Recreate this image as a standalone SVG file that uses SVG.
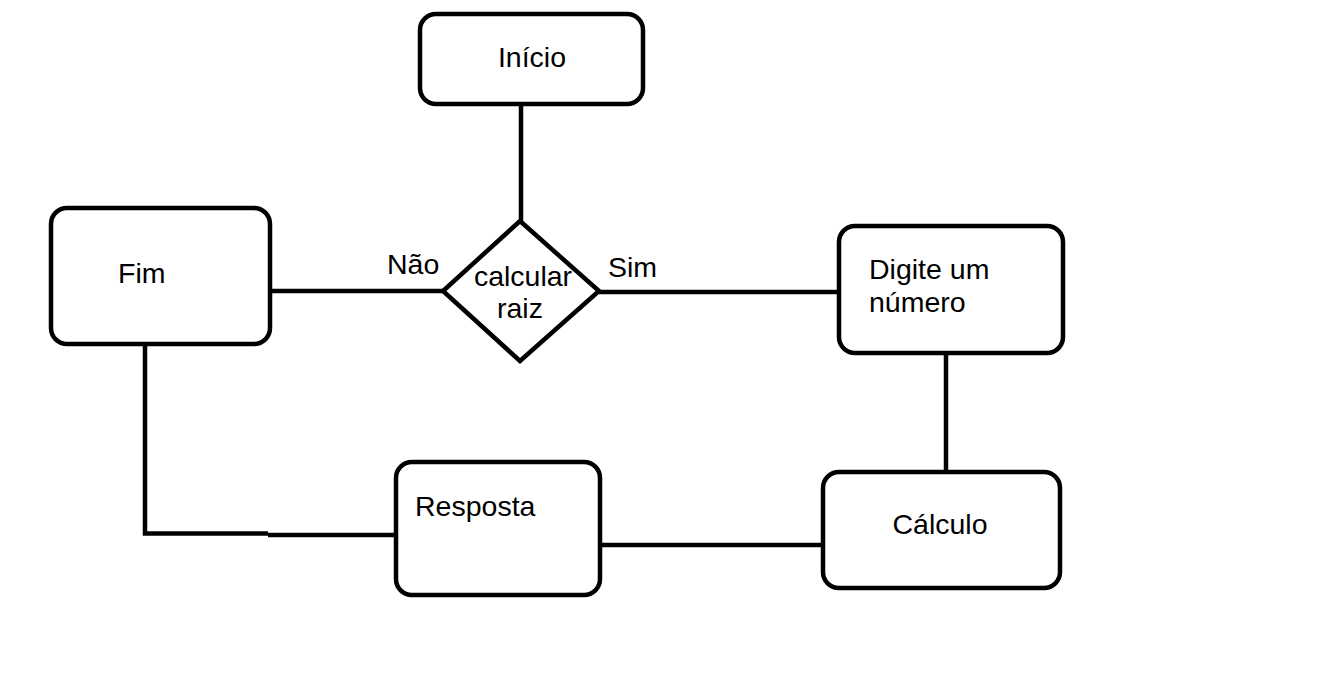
<svg xmlns="http://www.w3.org/2000/svg" width="1330" height="673" viewBox="0 0 1330 673">
<style>
.box{fill:#fff;stroke:#000;stroke-width:4.5}
.ln{fill:none;stroke:#000;stroke-width:4.5}
text{font-family:"Liberation Sans",Arial,sans-serif;font-size:28.5px;fill:#000}
</style>
<rect width="1330" height="673" fill="#fff"/>
<g id="connectors">
<line class="ln" x1="521" y1="104" x2="521" y2="221"/>
<line class="ln" x1="270" y1="291" x2="443" y2="291"/>
<line class="ln" x1="599" y1="292" x2="839" y2="292"/>
<line class="ln" x1="946" y1="353" x2="946" y2="472"/>
<line class="ln" x1="600" y1="545" x2="823" y2="545"/>
<polyline class="ln" points="145,344 145,533.5 268,533.5"/>
<line class="ln" x1="268" y1="535" x2="396" y2="535"/>
<text x="387" y="274">Não</text>
<text x="608" y="277">Sim</text>
</g>
<g id="inicio">
<rect class="box" x="420" y="14" width="223" height="90" rx="16"/>
<text x="532" y="67" text-anchor="middle">Início</text>
</g>
<g id="decisao">
<polygon class="box" points="520,221 599,291 520,361 443,291"/>
<text x="523" y="286" text-anchor="middle">calcular</text>
<text x="520" y="318" text-anchor="middle">raiz</text>
</g>
<g id="fim">
<rect class="box" x="51" y="208" width="219" height="136" rx="16"/>
<text x="118" y="283">Fim</text>
</g>
<g id="digite">
<rect class="box" x="839" y="226" width="224" height="127" rx="16"/>
<text x="869" y="279">Digite um</text>
<text x="869" y="312">número</text>
</g>
<g id="calculo">
<rect class="box" x="823" y="472" width="237" height="116" rx="16"/>
<text x="940" y="534" text-anchor="middle">Cálculo</text>
</g>
<g id="resposta">
<rect class="box" x="396" y="462" width="204" height="133" rx="16"/>
<text x="415" y="516">Resposta</text>
</g>
</svg>
